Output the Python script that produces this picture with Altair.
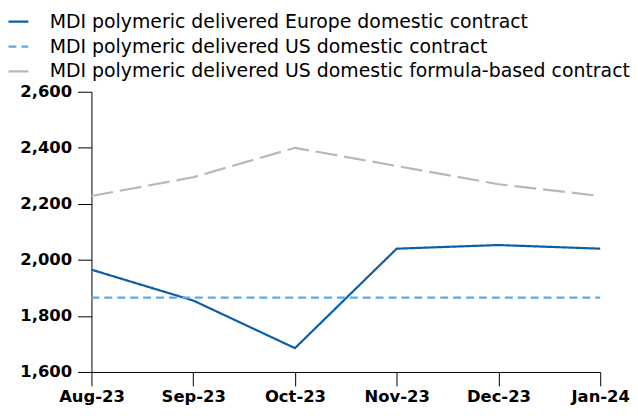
import altair as alt
import pandas as pd

months = ["Aug-23", "Sep-23", "Oct-23", "Nov-23", "Dec-23", "Jan-24"]
europe = [1965, 1855, 1685, 2040, 2053, 2040]
us_contract = [1865, 1865, 1865, 1865, 1865, 1865]
us_formula = [2228, 2295, 2400, 2335, 2270, 2228]

series_names = [
    "MDI polymeric delivered Europe domestic contract",
    "MDI polymeric delivered US domestic contract",
    "MDI polymeric delivered US domestic formula-based contract",
]
colors = ["#0b5ea8", "#5ea9e6", "#b8b8b8"]
dashes = [[1, 0], [8, 5], [22, 7]]

rows = []
for name, vals in zip(series_names, [europe, us_contract, us_formula]):
    for m, v in zip(months, vals):
        rows.append({"month": m, "value": v, "series": name})
df = pd.DataFrame(rows)

FONT = "DejaVu Sans"

chart = alt.Chart(df).mark_line(strokeWidth=2.2).encode(
    x=alt.X("month:N", sort=months,
            scale=alt.Scale(type="point", padding=0),
            axis=alt.Axis(title=None, labelAngle=0, tickSize=14, labelFontWeight="bold",
                          labelFontSize=16.5, labelPadding=3, domainColor="#000", tickColor="#000",
                          labelColor="#000", grid=False)),
    y=alt.Y("value:Q", scale=alt.Scale(domain=[1600, 2600], nice=False),
            axis=alt.Axis(title=None, values=[1600, 1800, 2000, 2200, 2400, 2600], format=",.0f",
                          tickSize=14, labelFontWeight="bold", labelFontSize=16.5, labelPadding=6,
                          domainColor="#000", tickColor="#000", labelColor="#000", grid=False)),
    color=alt.Color("series:N", sort=series_names,
                    scale=alt.Scale(domain=series_names, range=colors),
                    legend=alt.Legend(title=None, orient="none", legendX=-85, legendY=-82,
                                      symbolType="stroke", symbolStrokeWidth=2.2, symbolSize=400,
                                      labelFontSize=19, labelColor="#000", rowPadding=3,
                                      labelOffset=20, labelLimit=700)),
    strokeDash=alt.StrokeDash("series:N", sort=series_names,
                              scale=alt.Scale(domain=series_names, range=dashes),
                              legend=None),
).properties(
    width=512, height=282,
    autosize=alt.AutoSizeParams(type="none"),
    padding={"left": 84, "top": 83, "right": 30, "bottom": 40},
).configure(font=FONT).configure_view(strokeWidth=0, stroke="transparent")

chart.save("out.html", embed_options={"renderer": "svg", "actions": False})
